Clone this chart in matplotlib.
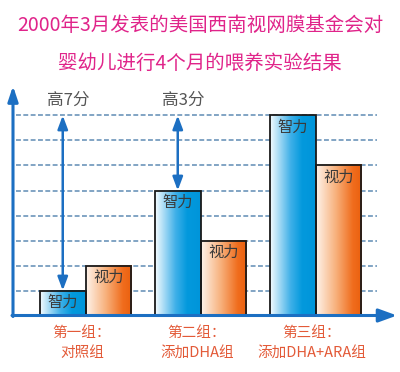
import matplotlib
matplotlib.use("Agg")
import matplotlib.pyplot as plt
import numpy as np
from matplotlib.colors import LinearSegmentedColormap
from matplotlib.patches import Rectangle

plt.rcParams['font.family'] = ['Noto Sans CJK SC', 'DejaVu Sans']

# ---- data ----
title_lines = ["2000年3月发表的美国西南视网膜基金会对", "婴幼儿进行4个月的喂养实验结果"]
group_line1 = ["第一组：", "第二组：", "第三组："]
group_line2 = ["对照组", "添加DHA组", "添加DHA+ARA组"]
intel = [1, 5, 8]        # 智力
vision = [2, 3, 6]       # 视力
series_names = ["智力", "视力"]
gaps = [("高7分", 0, 8), ("高3分", 1, 8)]   # label, group index, reference level
grid_levels = [1, 2, 3, 4, 5, 6, 7, 8]

# ---- figure ----
W, H = 400, 372
fig = plt.figure(figsize=(W / 100, H / 100), dpi=100)
ax = fig.add_axes([0, 0, 1, 1])
ax.set_axis_off()

# pixel -> data mapping (layout only)
def ux(px):
    return (px - 85.5) / 115.0
def vy(py):
    return (315.5 - py) / 25.0

axis_blue = '#1c6fc2'
bw = 45.5 / 115.0
x = np.arange(len(intel))

# gridlines
for g in grid_levels:
    ax.plot([ux(16), ux(377)], [g, g], color='#5f8cb4', lw=1.1,
            linestyle=(0, (3.2, 1.6)), zorder=1)

blue_cmap = LinearSegmentedColormap.from_list(
    'b', [(0, '#f6fcff'), (0.45, '#3fb0e8'), (0.7, '#0399dd'), (1, '#0095da')])
orange_cmap = LinearSegmentedColormap.from_list(
    'o', [(0, '#fef3ea'), (0.45, '#f7ae78'), (0.8, '#f06d1e'), (1, '#eb600e')])
grad = np.linspace(0, 1, 256).reshape(1, -1)

def gbar(x0, h, cmap, label):
    ax.imshow(grad, extent=[x0, x0 + bw, 0, h], aspect='auto', cmap=cmap,
              zorder=2, interpolation='bilinear')
    ax.add_patch(Rectangle((x0, 0), bw, h, facecolor='none',
                           edgecolor='#1a1a1a', lw=1.3, zorder=3))
    ax.text(x0 + bw / 2, h - 0.15, label, ha='center', va='top',
            fontsize=11, color='#3a3a3a', zorder=4)

for i in range(len(intel)):
    gbar(x[i] - bw, intel[i], blue_cmap, series_names[0])
    gbar(x[i], vision[i], orange_cmap, series_names[1])

# axes with arrows
ax.annotate('', xy=(ux(13), vy(86)), xytext=(ux(13), vy(316.5)),
            arrowprops=dict(arrowstyle='-|>,head_length=0.9,head_width=0.3',
                            color=axis_blue, lw=2.2, shrinkA=0, shrinkB=0),
            zorder=5)
ax.annotate('', xy=(ux(397), 0), xytext=(ux(12), 0),
            arrowprops=dict(arrowstyle='-|>,head_length=1.1,head_width=0.4',
                            color=axis_blue, lw=2.2, shrinkA=0, shrinkB=0),
            zorder=5)

# difference arrows
for label, gi, lvl in gaps:
    xc = x[gi] - bw / 2
    ax.annotate('', xy=(xc, intel[gi]), xytext=(xc, lvl),
                arrowprops=dict(arrowstyle='<|-|>,head_length=0.8,head_width=0.3',
                                color=axis_blue, lw=1.8, shrinkA=0, shrinkB=0),
                zorder=5)
    ax.text(xc + 0.05, vy(100), label, ha='center', va='center',
            fontsize=12, color='#555555')

# group labels
lab_col = '#e35a38'
for i in range(len(intel)):
    ax.text(x[i] - 0.03, vy(333), group_line1[i], ha='center', va='center',
            fontsize=10.5, color=lab_col)
    ax.text(x[i] - 0.03, vy(353), group_line2[i], ha='center', va='center',
            fontsize=10.5, color=lab_col)

# title
fig.text(0.5, 1 - 25 / H, title_lines[0], ha='center', va='center',
         fontsize=14, color='#e0248a')
fig.text(0.5, 1 - 63 / H, title_lines[1], ha='center', va='center',
         fontsize=14, color='#e0248a')

ax.set_xlim(ux(0), ux(W))
ax.set_ylim(vy(H), vy(0))

fig.savefig('out.png', dpi=100)
